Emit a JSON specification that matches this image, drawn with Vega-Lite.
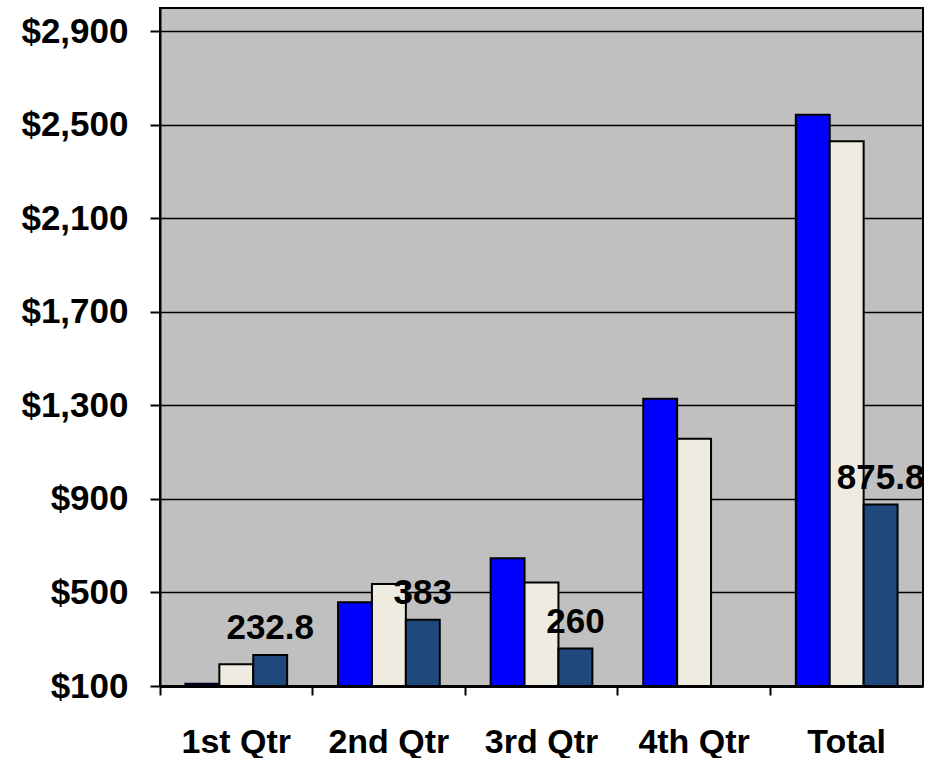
{
  "$schema": "https://vega.github.io/schema/vega-lite/v6.json",
  "width": 763,
  "height": 678,
  "autosize": {"type": "none"},
  "padding": {"left": 160, "top": 8, "right": 22, "bottom": 72},
  "background": "white",
  "config": {
    "view": {"fill": "#C0C0C0", "stroke": "black", "strokeWidth": 2},
    "font": "Liberation Sans"
  },
  "data": {
    "values": [
      {"quarter": "1st Qtr", "series": "Series1", "value": 110},
      {"quarter": "1st Qtr", "series": "Series2", "value": 193},
      {"quarter": "1st Qtr", "series": "Series3", "value": 232.8},
      {"quarter": "2nd Qtr", "series": "Series1", "value": 458},
      {"quarter": "2nd Qtr", "series": "Series2", "value": 536},
      {"quarter": "2nd Qtr", "series": "Series3", "value": 383},
      {"quarter": "3rd Qtr", "series": "Series1", "value": 646},
      {"quarter": "3rd Qtr", "series": "Series2", "value": 543},
      {"quarter": "3rd Qtr", "series": "Series3", "value": 260},
      {"quarter": "4th Qtr", "series": "Series1", "value": 1329},
      {"quarter": "4th Qtr", "series": "Series2", "value": 1158},
      {"quarter": "Total", "series": "Series1", "value": 2543},
      {"quarter": "Total", "series": "Series2", "value": 2430},
      {"quarter": "Total", "series": "Series3", "value": 875.8}
    ]
  },
  "encoding": {
    "x": {
      "field": "quarter",
      "type": "nominal",
      "sort": ["1st Qtr", "2nd Qtr", "3rd Qtr", "4th Qtr", "Total"],
      "scale": {"paddingInner": 0, "paddingOuter": 0},
      "axis": {
        "title": null,
        "labelAngle": 0,
        "bandPosition": 0,
        "grid": false,
        "domainColor": "black",
        "domainWidth": 3,
        "tickColor": "black",
        "tickSize": 9,
        "tickWidth": 2,
        "labelFontSize": 34,
        "labelFontWeight": "bold",
        "labelColor": "black",
        "labelPadding": 30,
        "labelBaseline": "top"
      }
    },
    "xOffset": {
      "field": "series",
      "type": "nominal",
      "sort": ["Series1", "Series2", "Series3"],
      "scale": {"paddingOuter": 0.75, "paddingInner": 0}
    },
    "y": {
      "field": "value",
      "type": "quantitative",
      "scale": {"domain": [100, 3000], "nice": false, "zero": false},
      "axis": {
        "title": null,
        "values": [100, 500, 900, 1300, 1700, 2100, 2500, 2900],
        "format": "$,.0f",
        "domainColor": "black",
        "domainWidth": 2,
        "tickColor": "black",
        "tickSize": 10,
        "tickWidth": 2,
        "grid": true,
        "gridColor": "black",
        "gridWidth": 1.5,
        "gridOpacity": 1,
        "labelFontSize": 35,
        "labelFontWeight": "bold",
        "labelColor": "black",
        "labelPadding": 22
      }
    }
  },
  "layer": [
    {
      "mark": {"type": "bar", "stroke": "black", "strokeWidth": 2},
      "encoding": {
        "y2": {"datum": 100},
        "color": {
          "field": "series",
          "type": "nominal",
          "scale": {
            "domain": ["Series1", "Series2", "Series3"],
            "range": ["#0000FF", "#EEECE1", "#1F497D"]
          },
          "legend": null
        }
      }
    },
    {
      "transform": [{"filter": "datum.series === 'Series3'"}],
      "mark": {
        "type": "text",
        "fontSize": 35,
        "fontWeight": "bold",
        "baseline": "alphabetic",
        "dy": -16,
        "color": "black"
      },
      "encoding": {
        "text": {"field": "value", "type": "quantitative", "format": "~g"}
      }
    }
  ]
}
